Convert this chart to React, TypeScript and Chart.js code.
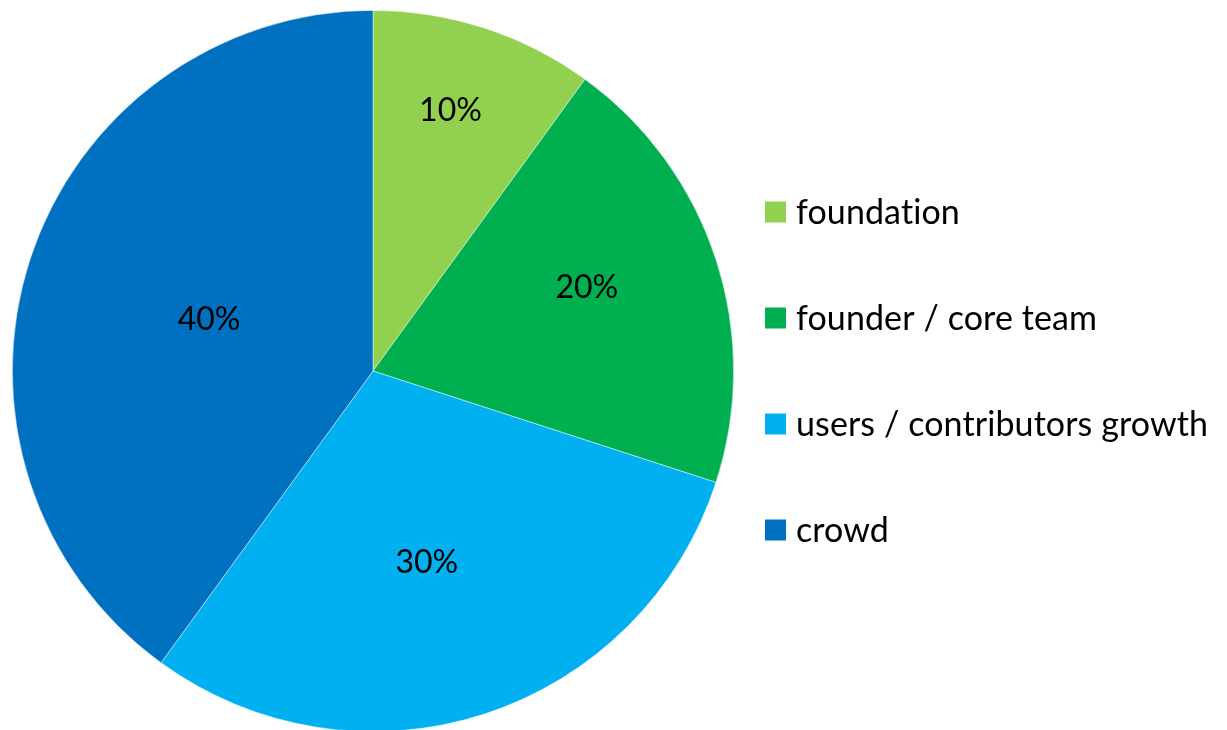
import React, { useEffect, useRef } from "react";
import Chart from "chart.js/auto";

const categories = ["foundation", "founder / core team", "users / contributors growth", "crowd"];
const shares = [10, 20, 30, 40];
const percentLabels = ["10%", "20%", "30%", "40%"];
const sliceColors = ["#92D050", "#00B050", "#00B0F0", "#0070C0"];
const labelRadiusFractions = [0.752, 0.636, 0.552, 0.476];
const labelAngleOffsetsDeg = [-1.4, -3.2, 2.3, -0.7];

const FONT = "Lato, 'Liberation Sans', sans-serif";

const pctLabelPlugin = {
  id: "pctLabels",
  afterDatasetsDraw(chart: any) {
    const ctx = chart.ctx;
    const meta = chart.getDatasetMeta(0);
    ctx.save();
    ctx.fillStyle = "#000";
    ctx.font = `32px ${FONT}`;
    ctx.textAlign = "center";
    ctx.textBaseline = "middle";
    meta.data.forEach((arc: any, i: number) => {
      const p = arc.getProps(["x", "y", "startAngle", "endAngle", "outerRadius"], true);
      const mid = (p.startAngle + p.endAngle) / 2 + (labelAngleOffsetsDeg[i] * Math.PI) / 180;
      const r = p.outerRadius * labelRadiusFractions[i];
      ctx.fillText(percentLabels[i], p.x + Math.cos(mid) * r, p.y + Math.sin(mid) * r);
    });
    ctx.restore();
  },
};

const legendPlugin = {
  id: "sideLegend",
  afterDraw(chart: any) {
    const ctx = chart.ctx;
    const area = chart.chartArea;
    const boxX = area.right + 31;
    const firstY = 212;
    const gap = 106;
    const box = 21;
    ctx.save();
    (ctx as any).letterSpacing = "0.1px";
    ctx.font = `34px ${FONT}`;
    ctx.textBaseline = "middle";
    ctx.textAlign = "left";
    categories.forEach((label, i) => {
      const cy = firstY + i * gap;
      ctx.fillStyle = sliceColors[i];
      ctx.fillRect(boxX, cy - box / 2, box, box);
      ctx.fillStyle = "#000";
      ctx.fillText(label, boxX + box + 10, cy + 1);
    });
    ctx.restore();
  },
};

export default function App() {
  const ref = useRef<HTMLCanvasElement | null>(null);
  useEffect(() => {
    document.body.style.margin = "0";
    const chart = new Chart(ref.current as HTMLCanvasElement, {
      type: "pie",
      data: {
        labels: categories,
        datasets: [
          {
            data: shares,
            backgroundColor: sliceColors,
            borderColor: "rgba(255,255,255,0.6)",
            borderWidth: 0.75,
          },
        ],
      },
      options: {
        animation: false,
        responsive: false,
        layout: { padding: { left: 12, right: 493, top: 10, bottom: 0 } },
        plugins: {
          legend: { display: false },
          tooltip: { enabled: false },
        },
      },
      plugins: [pctLabelPlugin, legendPlugin],
    });
    return () => chart.destroy();
  }, []);
  return (
    <div style={{ position: "absolute", left: 0, top: 0, width: 1227, height: 730, overflow: "hidden", background: "#fff" }}>
      <canvas ref={ref} width={1227} height={732} style={{ display: "block" }} />
    </div>
  );
}
